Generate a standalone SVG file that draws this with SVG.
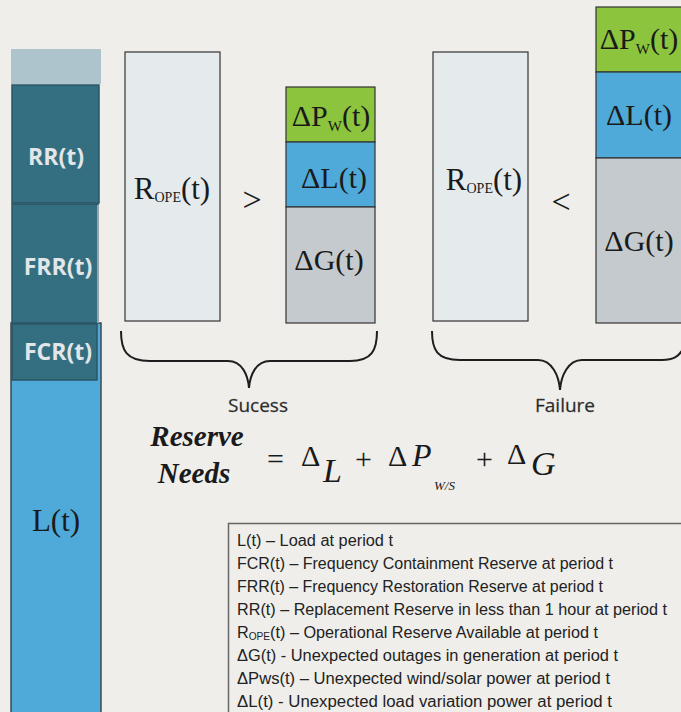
<svg xmlns="http://www.w3.org/2000/svg" width="681" height="712" viewBox="0 0 681 712">
<style>
.bg{fill:#efeeea}
.teal{fill:#336f80;stroke:#2a5664;stroke-width:1.5}
.lbl{font-family:"Open Sans","Liberation Sans",sans-serif;font-weight:bold;font-size:23px;fill:#e2e6e8;text-anchor:middle}
.ser{font-family:"Liberation Serif","DejaVu Serif",serif;fill:#1a1a1a}
.box{stroke:#333;stroke-width:1.2}
.ropef{fill:#e5eaed}
.grn{fill:#8cc43d}
.blu{fill:#4faad9}
.gry{fill:#c5cace}
.brace{fill:none;stroke:#1e1e1e;stroke-width:2}
.cap{font-family:"Open Sans","Liberation Sans",sans-serif;font-size:19px;fill:#222;text-anchor:middle;stroke:#555;stroke-width:0.3}
.leg{font-family:"Liberation Sans","Open Sans",sans-serif;font-size:16px;fill:#222}
</style>
<rect class="bg" x="0" y="0" width="681" height="712"/>

<g id="column">
  <rect x="11" y="49" width="90" height="35" fill="#adc4cc"/>
  <rect x="11" y="323" width="90" height="395" class="blu" stroke="#3a4a55" stroke-width="1.5"/>
  <rect class="teal" x="12" y="85" width="87" height="118"/>
  <rect class="teal" x="12" y="204" width="86" height="119"/>
  <rect x="97" y="205" width="2" height="118" fill="#9aa5aa"/>
  <rect class="teal" x="12" y="324" width="85" height="56"/>
  <text class="lbl" x="56" y="165">RR(t)</text>
  <text class="lbl" x="58" y="275">FRR(t)</text>
  <text class="lbl" x="58" y="360">FCR(t)</text>
  <text class="ser" x="56" y="531" font-size="31" text-anchor="middle">L(t)</text>
</g>

<g id="success">
  <rect class="box ropef" x="125" y="52" width="95" height="269"/>
  <text class="ser" x="172" y="199" font-size="31" text-anchor="middle">R<tspan font-size="14" dy="3">OPE</tspan><tspan dy="-3">(t)</tspan></text>
  <text class="ser" x="252" y="211" font-size="34" text-anchor="middle">&gt;</text>
  <rect class="box grn" x="286" y="87" width="89" height="55"/>
  <rect class="box blu" x="286" y="142" width="89" height="65"/>
  <rect class="box gry" x="286" y="207" width="89" height="116"/>
  <text class="ser" x="331" y="126" font-size="30" text-anchor="middle">ΔP<tspan font-size="15" dy="5">W</tspan><tspan dy="-5">(t)</tspan></text>
  <text class="ser" x="334" y="188" font-size="30" text-anchor="middle">ΔL(t)</text>
  <text class="ser" x="329" y="270" font-size="30" text-anchor="middle">ΔG(t)</text>
</g>

<g id="failure">
  <rect class="box ropef" x="433" y="52" width="95" height="269"/>
  <text class="ser" x="484" y="190" font-size="31" text-anchor="middle">R<tspan font-size="14" dy="3">OPE</tspan><tspan dy="-3">(t)</tspan></text>
  <text class="ser" x="561" y="213" font-size="34" text-anchor="middle">&lt;</text>
  <rect class="box grn" x="596" y="7" width="90" height="65"/>
  <rect class="box blu" x="596" y="72" width="90" height="86"/>
  <rect class="box gry" x="596" y="158" width="90" height="165"/>
  <text class="ser" x="639" y="49" font-size="30" text-anchor="middle">ΔP<tspan font-size="15" dy="5">W</tspan><tspan dy="-5">(t)</tspan></text>
  <text class="ser" x="639" y="125" font-size="30" text-anchor="middle">ΔL(t)</text>
  <text class="ser" x="639" y="251" font-size="30" text-anchor="middle">ΔG(t)</text>
</g>

<g id="connectors">
  <path class="brace" d="M121,331 C121,350 126,361 150,361 L228,361 C242,361 248,375 249,388 C250,375 256,361 270,361 L350,361 C372,361 377,350 377,331"/>
  <path class="brace" d="M432,331 C432,350 437,360 460,360 L538,360 C552,360 559,376 560,390 C561,376 568,360 582,360 L662,360 C674,360 679,356 683,349"/>
</g>

<g id="captions">
  <text class="cap" x="258" y="412">Sucess</text>
  <text class="cap" x="565" y="412">Failure</text>
</g>

<g id="equation" class="ser">
  <text x="197" y="446" font-size="29" font-weight="bold" font-style="italic" text-anchor="middle">Reserve</text>
  <text x="194" y="483" font-size="29" font-weight="bold" font-style="italic" text-anchor="middle">Needs</text>
  <text x="267" y="469" font-size="30">=</text>
  <text x="301" y="466" font-size="30">Δ</text>
  <text x="323" y="482" font-size="34" font-style="italic">L</text>
  <text x="355" y="469" font-size="30">+</text>
  <text x="388" y="466" font-size="30">Δ</text>
  <text x="412" y="466" font-size="32" font-style="italic">P</text>
  <text x="434" y="490" font-size="13" font-style="italic">W/S</text>
  <text x="476" y="469" font-size="30">+</text>
  <text x="507" y="464" font-size="30">Δ</text>
  <text x="531" y="475" font-size="34" font-style="italic">G</text>
</g>

<g id="legend">
  <rect x="228.5" y="523.5" width="460" height="200" fill="none" stroke="#666" stroke-width="1.5"/>
  <text class="leg" x="237" y="546" textLength="156" lengthAdjust="spacingAndGlyphs">L(t) – Load at period t</text>
  <text class="leg" x="237" y="569" textLength="376" lengthAdjust="spacingAndGlyphs">FCR(t) – Frequency Containment Reserve at period t</text>
  <text class="leg" x="237" y="592" textLength="366" lengthAdjust="spacingAndGlyphs">FRR(t) – Frequency Restoration Reserve at period t</text>
  <text class="leg" x="237" y="615" textLength="430" lengthAdjust="spacingAndGlyphs">RR(t) – Replacement Reserve in less than 1 hour at period t</text>
  <text class="leg" x="237" y="638" textLength="361" lengthAdjust="spacingAndGlyphs">R<tspan font-size="10" dy="2">OPE</tspan><tspan dy="-2">(t) – Operational Reserve Available at period t</tspan></text>
  <text class="leg" x="237" y="661" textLength="381" lengthAdjust="spacingAndGlyphs">ΔG(t) - Unexpected outages in generation at period t</text>
  <text class="leg" x="237" y="684" textLength="373" lengthAdjust="spacingAndGlyphs">ΔPws(t) – Unexpected wind/solar power at period t</text>
  <text class="leg" x="237" y="707" textLength="375" lengthAdjust="spacingAndGlyphs">ΔL(t) - Unexpected load variation power at period t</text>
</g>
</svg>
